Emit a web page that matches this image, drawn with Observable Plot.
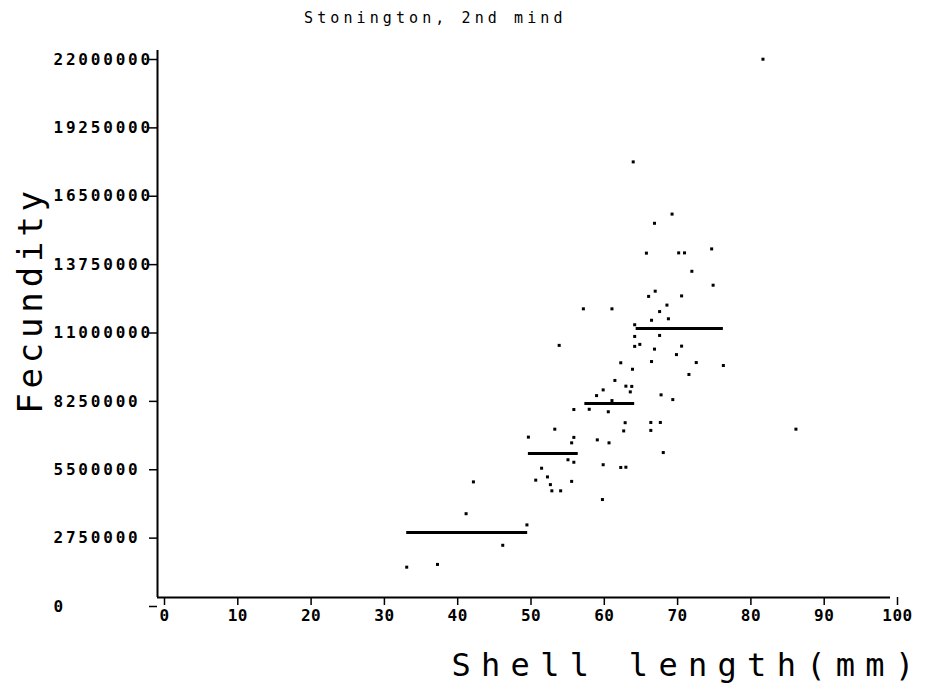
<!DOCTYPE html>
<html>
<head>
<meta charset="utf-8">
<script src="https://cdn.jsdelivr.net/npm/d3@7"></script>
<script src="https://cdn.jsdelivr.net/npm/@observablehq/plot@0.6"></script>
<style>
  html, body { margin: 0; padding: 0; background: #fff; }
  #wrap { width: 939px; height: 696px; position: relative; overflow: hidden; }
  #title { height: 36px; line-height: 36px; font-family: "DejaVu Sans Mono", monospace; font-size: 15px;
           letter-spacing: 4.1px; color: #000; position: relative; left: 304px; white-space: nowrap; }
  svg { display: block; }
</style>
</head>
<body>
<div id="wrap">
  <div id="title">Stonington, 2nd mind</div>
  <div id="chart"></div>
</div>
<script>
// Individual clams: shell length (mm) and fecundity (eggs)
const shellLength = [34.0, 38.2, 47.1, 50.4, 42.1, 43.1, 50.6, 51.6, 52.4, 53.2, 53.6, 53.8, 55.0, 54.2, 54.8, 56.5, 56.8, 56.8, 56.0, 56.8, 56.5,
  64.9, 70.2, 67.8, 66.7, 71.1, 71.9, 75.6, 72.9, 75.8, 67.9, 67.0, 71.5, 69.5, 68.5, 67.4, 69.7, 58.1, 62.0, 65.1, 65.1, 65.1, 65.8,
  68.5, 67.8, 71.5, 70.8, 67.4, 63.2, 73.5, 77.2, 64.8, 72.5, 62.4, 63.9, 64.7, 60.8, 64.5, 59.9, 68.7, 70.3, 62.0, 58.9, 61.5, 63.8,
  67.3, 68.6, 63.6, 67.3, 60.0, 61.6, 69.0, 60.8, 63.2, 63.9, 60.7, 82.6, 87.1];
const fecundity = [1220000, 1330000, 2100000, 2920000, 3370000, 4650000, 6450000, 4720000, 5200000, 4850000, 4540000, 4290000, 4290000, 6770000,
  10140000, 6220000, 6440000, 7560000, 5540000, 5440000, 4670000,
  17520000, 15420000, 15050000, 13850000, 13860000, 13860000, 14020000, 13120000, 12560000, 12320000, 12110000, 12130000, 11760000,
  11500000, 11150000, 11210000, 11610000, 11610000, 10970000, 10500000, 10100000, 10180000,
  10540000, 9990000, 10110000, 9770000, 9490000, 9440000, 9450000, 9330000, 9180000, 8970000, 8730000, 8500000, 8490000, 8350000,
  8270000, 8120000, 8150000, 7960000, 7920000, 7570000, 7470000, 7030000,
  7040000, 7040000, 6700000, 6720000, 6340000, 6220000, 5830000, 5340000, 5230000, 5240000, 3940000, 21650000, 6770000];

// Size-class means (horizontal bars)
const meanFrom = [34.0, 50.6, 58.3, 65.3];
const meanTo = [50.5, 57.4, 65.1, 77.2];
const meanValue = [2610000, 5790000, 7800000, 10820000];

// Tick values
const xTicks = [0, 10, 20, 30, 40, 50, 60, 70, 80, 90, 100];
const yTicks = [0, 2750000, 5500000, 8250000, 11000000, 13750000, 16500000, 19250000, 22000000];

const points = shellLength.map((x, i) => ({x, y: fecundity[i]}));
const means = meanValue.map((v, i) => ({x1: meanFrom[i], x2: meanTo[i], y: v}));

const chart = Plot.plot({
  width: 939,
  height: 660,
  marginLeft: 157,
  marginRight: 49,
  marginTop: 14,
  marginBottom: 99,
  style: {background: "#fff", color: "#000", overflow: "visible"},
  x: {domain: [0, 100]},
  y: {domain: [0, 22000000]},
  marks: [
    Plot.ruleY([0], {stroke: "#000", strokeWidth: 2}),
    Plot.ruleX([0], {stroke: "#000", strokeWidth: 2}),
    Plot.axisX({
      ticks: xTicks, tickSize: 8, tickPadding: 4, tickFormat: d => String(d),
      fontFamily: "DejaVu Sans Mono, monospace", fontWeight: "bold", fontSize: 16, dx: 7,
      strokeWidth: 1.5,
      label: "Shell length(mm)", labelAnchor: "right", labelArrow: "none", labelOffset: 78
    }),
    Plot.axisY({
      ticks: yTicks, tickSize: 8, tickPadding: 96, textAnchor: "start", dy: 9,
      tickFormat: d => String(d),
      fontFamily: "DejaVu Sans Mono, monospace", fontWeight: "bold", fontSize: 16,
      strokeWidth: 1.5,
      label: "Fecundity", labelAnchor: "center", labelArrow: "none", labelOffset: 140
    }),
    Plot.ruleY(means, {x1: "x1", x2: "x2", y: "y", stroke: "#000", strokeWidth: 3}),
    Plot.dot(points, {x: "x", y: "y", symbol: "square", r: 1.7, fill: "#000", stroke: null})
  ]
});
document.getElementById("chart").appendChild(chart);

// style: tick-label letter spacing and large axis labels
const svg = d3.select(chart);
svg.selectAll("[aria-label='x-axis tick label'] text").style("letter-spacing", "0.5px");
svg.selectAll("[aria-label='y-axis tick label'] text").style("letter-spacing", "2.8px");
svg.selectAll("[aria-label='x-axis label']")
  .attr("font-family", "DejaVu Sans Mono, monospace").attr("font-size", 32).attr("font-weight", "normal")
  .style("letter-spacing", "10.3px");
svg.selectAll("[aria-label='x-axis label'] text").attr("dx", -12);
svg.selectAll("[aria-label='y-axis label']")
  .attr("font-family", "DejaVu Sans Mono, monospace").attr("font-size", 34).attr("font-weight", "normal")
  .style("letter-spacing", "4.8px");
svg.selectAll("[aria-label='y-axis label'] text").attr("dx", 24);
</script>
</body>
</html>
